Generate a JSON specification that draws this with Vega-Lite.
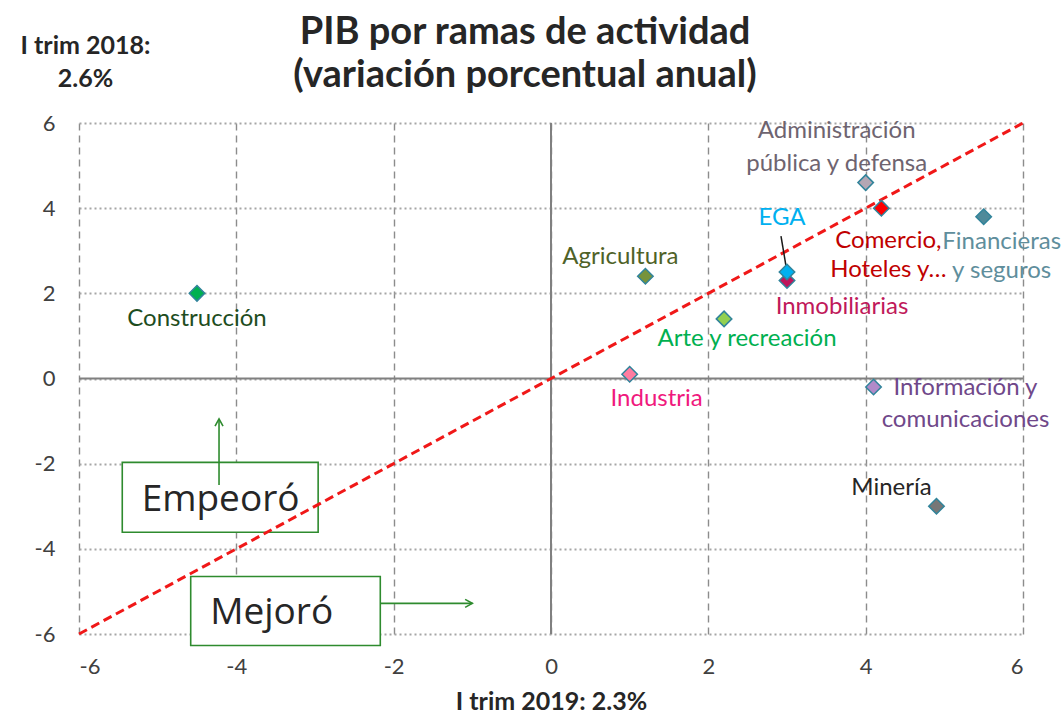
{
  "$schema": "https://vega.github.io/schema/vega-lite/v6.json",
  "width": 944,
  "height": 511,
  "autosize": {"type": "none"},
  "padding": {"left": 79, "top": 123, "right": 38, "bottom": 87},
  "background": "white",
  "config": {
    "view": {"stroke": null},
    "font": "Lato",
    "text": {"lineBreak": "\n"}
  },
  "title": {
    "text": ["PIB por ramas de actividad", "(variación porcentual anual)"],
    "font": "Lato",
    "fontSize": 38,
    "fontWeight": "bold",
    "color": "#262626",
    "lineHeight": 43,
    "anchor": "middle",
    "frame": "group",
    "dx": -26,
    "offset": -62
  },
  "datasets": {
    "sectors": [
      {"sector": "Construcción", "label": "Construcción", "x": -4.5, "y": 2.0},
      {"sector": "Agricultura", "label": "Agricultura", "x": 1.2, "y": 2.4},
      {"sector": "Arte y recreación", "label": "Arte y recreación", "x": 2.2, "y": 1.4},
      {"sector": "Industria", "label": "Industria", "x": 1.0, "y": 0.1},
      {"sector": "Inmobiliarias", "label": "Inmobiliarias", "x": 3.0, "y": 2.3},
      {"sector": "EGA", "label": "EGA", "x": 3.0, "y": 2.5},
      {"sector": "Administración pública y defensa", "label": "Administración\npública y defensa", "x": 4.0, "y": 4.6},
      {"sector": "Comercio, Hoteles y…", "label": "Comercio,\nHoteles y…", "x": 4.2, "y": 4.0},
      {"sector": "Financieras y seguros", "label": "Financieras\ny seguros", "x": 5.5, "y": 3.8},
      {"sector": "Información y comunicaciones", "label": "Información y\ncomunicaciones", "x": 4.1, "y": -0.2},
      {"sector": "Minería", "label": "Minería", "x": 4.9, "y": -3.0}
    ],
    "zero": [
      {"x": 0, "y": -6, "x2": 0, "y2": 6},
      {"x": -6, "y": 0, "x2": 6, "y2": 0}
    ],
    "diag": [
      {"x": -6, "y": -6},
      {"x": 6, "y": 6}
    ],
    "boxes": [
      {"box": "Empeoró", "x": -5.45, "y": -1.97, "x2": -2.96, "y2": -3.61},
      {"box": "Mejoró", "x": -4.58, "y": -4.65, "x2": -2.17, "y2": -6.27}
    ],
    "boxText": [
      {"box": "Empeoró", "x": -4.2, "y": -2.8},
      {"box": "Mejoró", "x": -3.55, "y": -5.46}
    ],
    "shafts": [
      {"arrow": "up", "x": -4.22, "y": -2.5, "x2": -4.22, "y2": -0.95},
      {"arrow": "right", "x": -2.17, "y": -5.28, "x2": -1.0, "y2": -5.28}
    ],
    "heads": [
      {"head": "up", "x": -4.22, "y": -0.95},
      {"head": "right", "x": -1.0, "y": -5.28}
    ]
  },
  "encoding": {
    "x": {
      "field": "x",
      "type": "quantitative",
      "scale": {"domain": [-6, 6], "nice": false, "zero": false},
      "axis": {
        "title": "I trim 2019: 2.3%",
        "titleFont": "Lato",
        "titleFontSize": 25,
        "titleFontWeight": "bold",
        "titleColor": "#262626",
        "titlePadding": 12,
        "values": [-6, -4, -2, 0, 2, 4, 6],
        "labelExpr": "toString(datum.value)",
        "domain": false,
        "ticks": false,
        "labelFont": "Lato",
        "labelFontSize": 22,
        "labelColor": "#404040",
        "labelPadding": 22,
        "grid": true,
        "gridColor": "#8c8c8c",
        "gridDash": [7, 5],
        "gridWidth": 1.4
      }
    },
    "y": {
      "field": "y",
      "type": "quantitative",
      "scale": {"domain": [-6, 6], "nice": false, "zero": false},
      "axis": {
        "title": ["I trim 2018:", "2.6%"],
        "titleFont": "Lato",
        "titleFontSize": 25,
        "titleFontWeight": "bold",
        "titleColor": "#262626",
        "titleAngle": 0,
        "titleAlign": "center",
        "titleBaseline": "middle",
        "titleLineHeight": 33,
        "titleX": 6,
        "titleY": -78,
        "values": [-6, -4, -2, 0, 2, 4, 6],
        "labelExpr": "toString(datum.value)",
        "domain": false,
        "ticks": false,
        "labelFont": "Lato",
        "labelFontSize": 22,
        "labelColor": "#404040",
        "labelPadding": 24,
        "grid": true,
        "gridColor": "#a6a6a6",
        "gridDash": [2, 3],
        "gridWidth": 2
      }
    }
  },
  "layer": [
    {
      "data": {"name": "zero"},
      "mark": {"type": "rule", "color": "#808080", "strokeWidth": 2},
      "encoding": {
        "x2": {"field": "x2"},
        "y2": {"field": "y2"}
      }
    },
    {
      "data": {"name": "boxes"},
      "mark": {"type": "rect", "fill": "white", "stroke": "#2e8b2e", "strokeWidth": 1.6},
      "encoding": {
        "x2": {"field": "x2"},
        "y2": {"field": "y2"}
      }
    },
    {
      "data": {"name": "boxText"},
      "mark": {"type": "text", "font": "Open Sans", "fontSize": 37, "color": "#262626", "align": "center", "baseline": "middle", "dy": 2},
      "encoding": {"text": {"field": "box"}}
    },
    {
      "data": {"name": "shafts"},
      "mark": {"type": "rule", "color": "#2e8b2e", "strokeWidth": 1.6},
      "encoding": {
        "x2": {"field": "x2"},
        "y2": {"field": "y2"}
      }
    },
    {
      "data": {"name": "heads"},
      "mark": {"type": "point", "filled": false, "stroke": "#2e8b2e", "strokeWidth": 1.6, "size": 64, "opacity": 1},
      "encoding": {
        "shape": {
          "field": "head",
          "type": "nominal",
          "scale": {"domain": ["up", "right"], "range": ["M -1 1.8 L 0 0 L 1 1.8", "M -1.8 -1 L 0 0 L -1.8 1"]},
          "legend": null
        }
      }
    },
    {
      "data": {"name": "diag"},
      "mark": {"type": "line", "color": "#f01818", "strokeWidth": 3, "strokeDash": [9, 5]},
      "encoding": {}
    },
    {
      "data": {"name": "sectors"},
      "transform": [{"filter": "datum.sector === 'EGA'"}],
      "mark": {"type": "rule", "color": "#1a1a1a", "strokeWidth": 1.5, "x2Offset": -6, "y2Offset": -36},
      "encoding": {
        "x2": {"field": "x"},
        "y2": {"field": "y"}
      }
    },
    {
      "data": {"name": "sectors"},
      "mark": {"type": "point", "shape": "diamond", "filled": true, "size": 240, "stroke": "#31849b", "strokeWidth": 1.5, "opacity": 1},
      "encoding": {
        "fill": {
          "field": "sector",
          "type": "nominal",
          "scale": {
            "domain": ["Construcción", "Agricultura", "Arte y recreación", "Industria", "Inmobiliarias", "EGA", "Administración pública y defensa", "Comercio, Hoteles y…", "Financieras y seguros", "Información y comunicaciones", "Minería"],
            "range": ["#00b050", "#77933c", "#92d050", "#ff7ca0", "#c0145a", "#00b0f0", "#b4a7b4", "#ff0000", "#4f8a9a", "#b18ac9", "#777777"]
          },
          "legend": null
        },
        "order": {"field": "x", "type": "quantitative"}
      }
    },
    {
      "data": {"name": "sectors"},
      "transform": [{"filter": "datum.sector === 'Construcción'"}],
      "mark": {"type": "text", "fontSize": 24, "color": "#1e4d1e", "align": "center", "baseline": "middle", "dy": 26},
      "encoding": {"text": {"field": "label"}}
    },
    {
      "data": {"name": "sectors"},
      "transform": [{"filter": "datum.sector === 'Agricultura'"}],
      "mark": {"type": "text", "fontSize": 24, "color": "#4f6228", "align": "center", "baseline": "middle", "dx": -25, "dy": -19},
      "encoding": {"text": {"field": "label"}}
    },
    {
      "data": {"name": "sectors"},
      "transform": [{"filter": "datum.sector === 'Arte y recreación'"}],
      "mark": {"type": "text", "fontSize": 24, "color": "#00b050", "align": "center", "baseline": "middle", "dx": 23, "dy": 20},
      "encoding": {"text": {"field": "label"}}
    },
    {
      "data": {"name": "sectors"},
      "transform": [{"filter": "datum.sector === 'Industria'"}],
      "mark": {"type": "text", "fontSize": 24, "color": "#f0197d", "align": "center", "baseline": "middle", "dx": 27, "dy": 25},
      "encoding": {"text": {"field": "label"}}
    },
    {
      "data": {"name": "sectors"},
      "transform": [{"filter": "datum.sector === 'Inmobiliarias'"}],
      "mark": {"type": "text", "fontSize": 24, "color": "#c0195a", "align": "center", "baseline": "middle", "dx": 55, "dy": 26},
      "encoding": {"text": {"field": "label"}}
    },
    {
      "data": {"name": "sectors"},
      "transform": [{"filter": "datum.sector === 'EGA'"}],
      "mark": {"type": "text", "fontSize": 24, "color": "#00b0f0", "align": "center", "baseline": "middle", "dx": -5, "dy": -54},
      "encoding": {"text": {"field": "label"}}
    },
    {
      "data": {"name": "sectors"},
      "transform": [{"filter": "datum.sector === 'Administración pública y defensa'"}],
      "mark": {"type": "text", "fontSize": 24, "color": "#6e6470", "align": "center", "baseline": "middle", "lineHeight": 33, "dx": -29, "dy": -52},
      "encoding": {"text": {"field": "label"}}
    },
    {
      "data": {"name": "sectors"},
      "transform": [{"filter": "datum.sector === 'Comercio, Hoteles y…'"}],
      "mark": {"type": "text", "fontSize": 24, "color": "#c00000", "align": "center", "baseline": "middle", "lineHeight": 29, "dx": 7, "dy": 33},
      "encoding": {"text": {"field": "label"}}
    },
    {
      "data": {"name": "sectors"},
      "transform": [{"filter": "datum.sector === 'Financieras y seguros'"}],
      "mark": {"type": "text", "fontSize": 24, "color": "#5f8e9c", "align": "center", "baseline": "middle", "lineHeight": 29, "dx": 18, "dy": 25},
      "encoding": {"text": {"field": "label"}}
    },
    {
      "data": {"name": "sectors"},
      "transform": [{"filter": "datum.sector === 'Información y comunicaciones'"}],
      "mark": {"type": "text", "fontSize": 24, "color": "#70488a", "align": "center", "baseline": "middle", "lineHeight": 32, "dx": 92, "dy": 1},
      "encoding": {"text": {"field": "label"}}
    },
    {
      "data": {"name": "sectors"},
      "transform": [{"filter": "datum.sector === 'Minería'"}],
      "mark": {"type": "text", "fontSize": 24, "color": "#262626", "align": "center", "baseline": "middle", "dx": -45, "dy": -18},
      "encoding": {"text": {"field": "label"}}
    }
  ]
}
